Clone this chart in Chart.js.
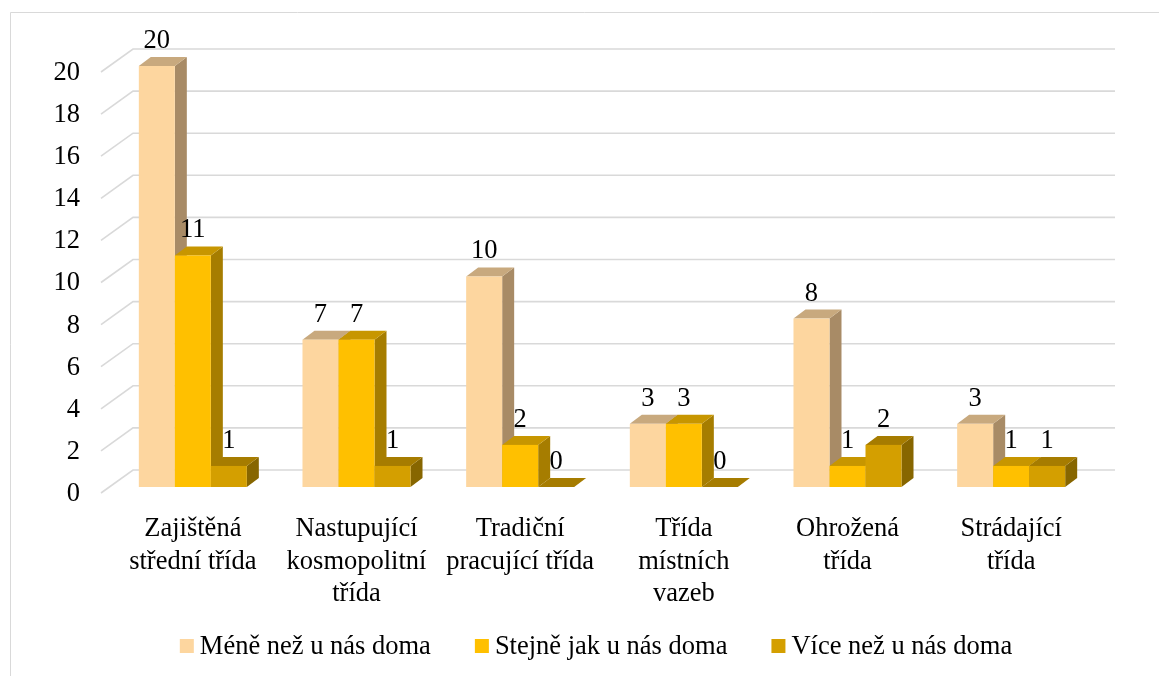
<!DOCTYPE html>
<html>
<head>
<meta charset="utf-8">
<script src="https://cdn.jsdelivr.net/npm/chart.js@4/dist/chart.umd.min.js"></script>
<style>
  html, body { margin: 0; padding: 0; background: #fff; }
</style>
</head>
<body>
<canvas id="chart" width="1159" height="676"></canvas>
<script>
// data
const categories = [
    ['Zajištěná', 'střední třída'],
    ['Nastupující', 'kosmopolitní', 'třída'],
    ['Tradiční', 'pracující třída'],
    ['Třída', 'místních', 'vazeb'],
    ['Ohrožená', 'třída'],
    ['Strádající', 'třída']
];
const seriesNames = ['Méně než u nás doma', 'Stejně jak u nás doma', 'Více než u nás doma'];
const lessThanHome = [20, 7, 10, 3, 8, 3];
const sameAsHome = [11, 7, 2, 3, 1, 1];
const moreThanHome = [1, 1, 0, 0, 2, 1];
const yTicks = [0, 2, 4, 6, 8, 10, 12, 14, 16, 18, 20];

// barvy: čelo, vrch, bok
const frontColors = ['#FDD69F', '#FFC000', '#D49F00'];
const topColors = ['#C8A97E', '#C79600', '#A67C00'];
const sideColors = ['#A88B66', '#A67D00', '#876600'];

const FONT = '"Liberation Serif", "DejaVu Serif", serif';
const FS = 26.5;
const DX = 12, DY = -9;            // hloubka sloupce
const WALL_DX = 22, WALL_DY = -17; // zadní stěna
const GRID = '#D9D9D9';

// 3D sloupce, mřížka, popisky a legenda
const bars3d = {
    id: 'bars3d',
    beforeDraw(chart) {
        const ctx = chart.ctx;
        ctx.save();
        ctx.fillStyle = '#fff';
        ctx.fillRect(0, 0, chart.width, chart.height);
        ctx.strokeStyle = GRID;
        ctx.lineWidth = 1;
        ctx.beginPath();
        ctx.moveTo(10.5, chart.height);
        ctx.lineTo(10.5, 12.5);
        ctx.lineTo(chart.width, 12.5);
        ctx.stroke();
        ctx.restore();
    },
    beforeDatasetsDraw(chart) {
        const ctx = chart.ctx;
        const area = chart.chartArea;
        const y = chart.scales.y;
        ctx.save();
        // mřížka
        ctx.strokeStyle = GRID;
        ctx.lineWidth = 1.6;
        y.ticks.forEach(t => {
            const py = y.getPixelForValue(t.value);
            ctx.beginPath();
            ctx.moveTo(area.left - 10, py + 6);
            ctx.lineTo(area.left + WALL_DX, py + WALL_DY);
            ctx.lineTo(area.right + WALL_DX, py + WALL_DY);
            ctx.stroke();
        });
        // sloupce
        const metas = chart.data.datasets.map((d, i) => chart.getDatasetMeta(i));
        for (let c = 0; c < categories.length; c++) {
            metas.forEach((meta, d) => {
                const el = meta.data[c];
                const l = el.x - el.width / 2, r = el.x + el.width / 2;
                const top = el.y, base = el.base;
                ctx.fillStyle = sideColors[d];
                ctx.beginPath();
                ctx.moveTo(r, top);
                ctx.lineTo(r + DX, top + DY);
                ctx.lineTo(r + DX, base + DY);
                ctx.lineTo(r, base);
                ctx.closePath();
                ctx.fill();
                ctx.fillStyle = topColors[d];
                ctx.beginPath();
                ctx.moveTo(l, top);
                ctx.lineTo(r, top);
                ctx.lineTo(r + DX, top + DY);
                ctx.lineTo(l + DX, top + DY);
                ctx.closePath();
                ctx.fill();
                if (base - top > 0) {
                    ctx.fillStyle = frontColors[d];
                    ctx.fillRect(l, top, el.width, base - top);
                }
            });
        }
        ctx.restore();
        return false; // vlastní kreslení místo výchozího
    },
    afterDraw(chart) {
        const ctx = chart.ctx;
        ctx.save();
        ctx.fillStyle = '#000';
        ctx.font = FS + 'px ' + FONT;
        ctx.textAlign = 'center';
        ctx.textBaseline = 'middle';
        // popisky hodnot
        chart.data.datasets.forEach((ds, d) => {
            chart.getDatasetMeta(d).data.forEach((el, i) => {
                ctx.fillText(String(ds.data[i]), el.x, el.y - 25);
            });
        });
        // legenda dole
        const box = 14, gap = 6, itemGap = 44, cy = 646, cx = 596;
        const widths = chart.data.datasets.map(ds => ctx.measureText(ds.label).width);
        const total = widths.reduce((a, w) => a + box + gap + w, 0) + itemGap * (widths.length - 1);
        let x = cx - total / 2;
        ctx.textAlign = 'left';
        chart.data.datasets.forEach((ds, d) => {
            ctx.fillStyle = ds.backgroundColor;
            ctx.fillRect(x, cy - box / 2, box, box);
            ctx.fillStyle = '#000';
            ctx.fillText(ds.label, x + box + gap, cy + 1);
            x += box + gap + widths[d] + itemGap;
        });
        ctx.restore();
    }
};

function renderChart() {
    new Chart(document.getElementById('chart'), {
        type: 'bar',
        data: {
            labels: categories,
            datasets: [
                { label: seriesNames[0], data: lessThanHome, backgroundColor: frontColors[0] },
                { label: seriesNames[1], data: sameAsHome, backgroundColor: frontColors[1] },
                { label: seriesNames[2], data: moreThanHome, backgroundColor: frontColors[2] }
            ]
        },
        options: {
            responsive: false,
            animation: false,
            devicePixelRatio: 1,
            layout: { padding: { left: 0, right: 66, top: 66, bottom: 0 } },
            datasets: { bar: { categoryPercentage: 0.66, barPercentage: 1 } },
            scales: {
                x: {
                    grid: { display: false, drawTicks: false },
                    border: { display: false },
                    ticks: {
                        color: '#000',
                        font: { family: FONT, size: FS, lineHeight: 1.226 },
                        padding: 26,
                        autoSkip: false,
                        maxRotation: 0
                    },
                    afterFit: s => { s.height = 189; }
                },
                y: {
                    min: 0,
                    max: 20,
                    grid: { display: false, drawTicks: false },
                    border: { display: false },
                    afterBuildTicks: s => { s.ticks = yTicks.map(v => ({ value: v })); },
                    ticks: {
                        color: '#000',
                        font: { family: FONT, size: FS },
                        padding: 31,
                        labelOffset: 7
                    },
                    afterFit: s => { s.width = 111; }
                }
            },
            plugins: {
                legend: { display: false },
                tooltip: { enabled: false }
            }
        },
        plugins: [bars3d]
    });
}

// počkat na systémová písma
if (document.fonts && document.fonts.load) {
    Promise.all([
        document.fonts.load(FS + 'px "Liberation Serif"'),
        document.fonts.load(FS + 'px "DejaVu Serif"')
    ]).then(renderChart, renderChart);
} else {
    renderChart();
}
</script>
</body>
</html>
